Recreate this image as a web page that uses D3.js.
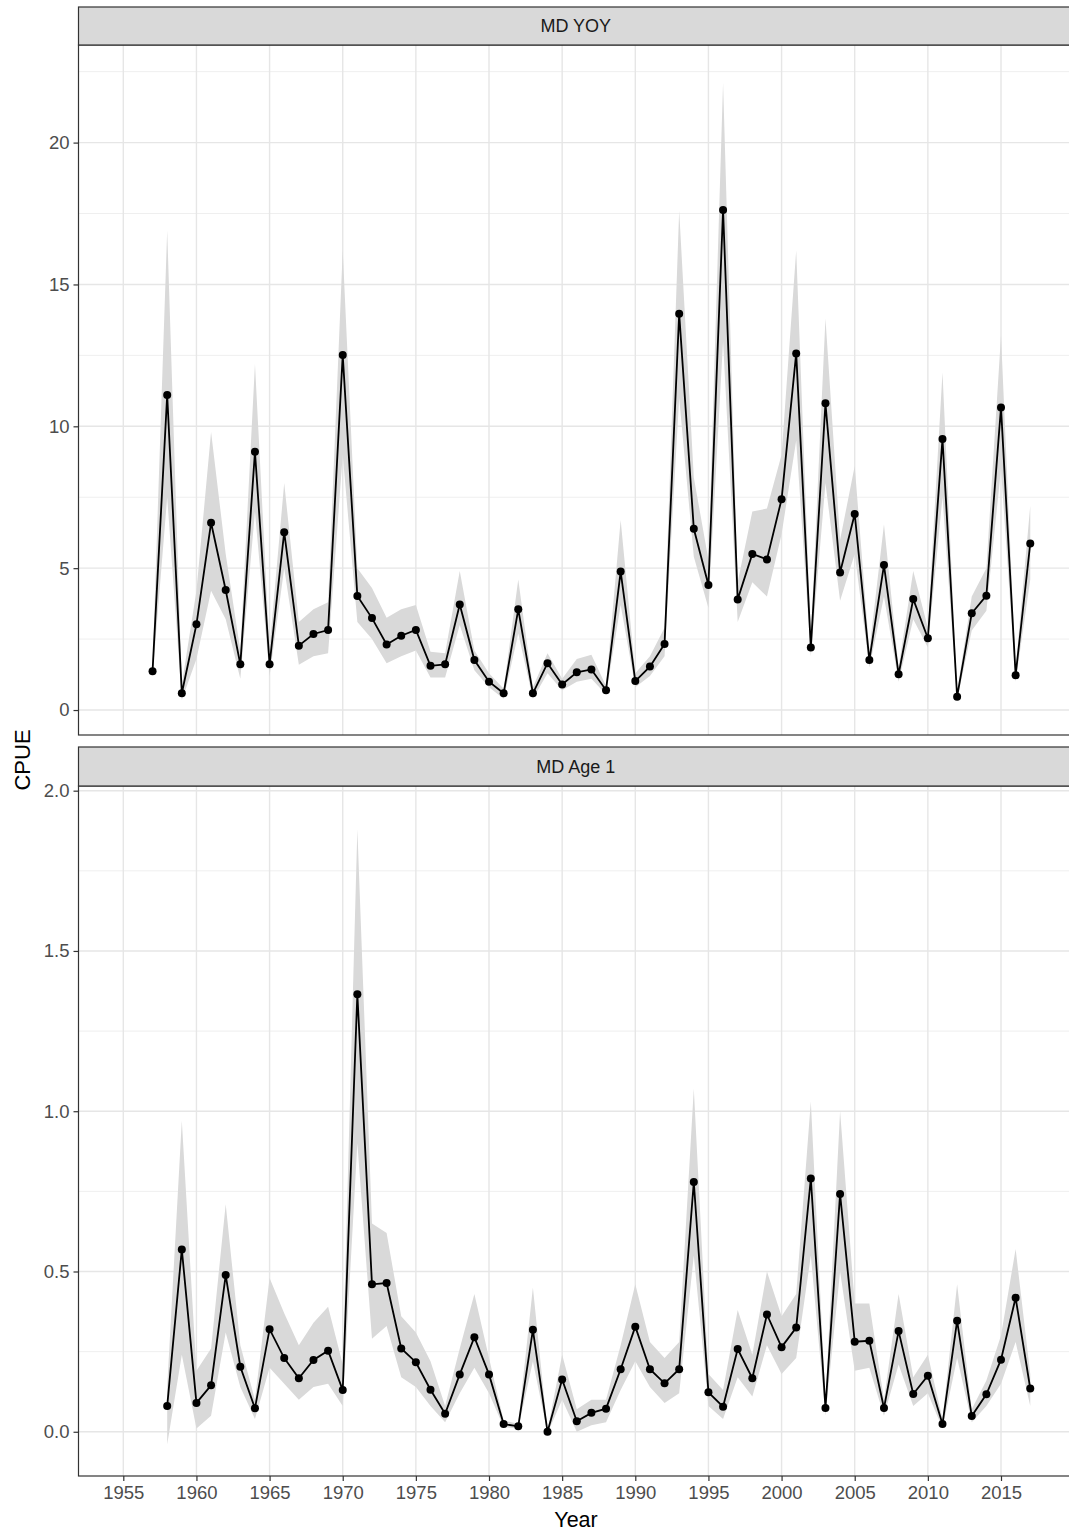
<!DOCTYPE html>
<html><head><meta charset="utf-8">
<script src="https://cdn.jsdelivr.net/npm/d3@7"></script>
<style>body{margin:0;background:#fff;} svg{display:block;font-family:"Liberation Sans",Arial,sans-serif;}</style>
</head><body>
<script>
// ---- data ----
const yoyYears = d3.range(1957, 2018);
const yoyValues = [1.37,11.1,0.59,3.02,6.6,4.23,1.61,9.1,1.61,6.27,2.27,2.68,2.82,12.51,4.02,3.24,2.31,2.62,2.82,1.56,1.61,3.72,1.76,1.0,0.59,3.55,0.59,1.65,0.9,1.33,1.43,0.7,4.88,1.02,1.53,2.33,13.97,6.39,4.41,17.62,3.9,5.5,5.31,7.43,12.57,2.2,10.81,4.85,6.91,1.76,5.11,1.26,3.91,2.53,9.55,0.47,3.41,4.03,10.66,1.23,5.87];
const yoyLower  = [1.2,7.5,0.35,1.8,4.2,3.2,1.1,7.0,1.2,5.0,1.6,1.9,2.0,9.0,3.1,2.5,1.65,1.9,2.1,1.15,1.15,3.0,1.4,0.8,0.4,2.7,0.4,1.3,0.7,1.0,1.1,0.55,3.7,0.8,1.2,1.9,11.0,5.4,3.6,13.0,3.1,4.5,4.0,6.2,9.5,1.9,8.0,3.85,5.5,1.5,4.0,1.0,3.2,2.2,7.5,0.35,2.8,3.5,8.5,1.0,4.6];
const yoyUpper  = [1.6,16.9,0.9,4.2,9.8,5.5,2.1,12.2,2.2,8.0,3.1,3.55,3.8,16.2,5.0,4.3,3.25,3.55,3.7,2.05,2.0,4.9,2.1,1.3,0.75,4.6,0.8,2.0,1.1,1.8,1.95,0.85,6.7,1.3,1.9,2.9,17.6,8.2,5.3,22.1,4.5,7.0,7.1,9.0,16.2,2.6,13.8,6.0,8.6,2.1,6.55,1.5,4.9,2.9,11.9,0.65,4.0,5.0,13.2,1.45,7.2];

const age1Years = d3.range(1958, 2018);
const age1Values = [0.08,0.569,0.09,0.145,0.489,0.203,0.073,0.32,0.23,0.167,0.224,0.253,0.13,1.365,0.46,0.464,0.26,0.217,0.131,0.056,0.179,0.295,0.179,0.024,0.017,0.318,0.0,0.163,0.033,0.059,0.072,0.195,0.328,0.195,0.151,0.195,0.779,0.123,0.078,0.258,0.167,0.366,0.264,0.325,0.79,0.074,0.742,0.281,0.284,0.074,0.314,0.118,0.175,0.024,0.346,0.049,0.117,0.225,0.418,0.135];
const age1Lower  = [-0.04,0.24,0.01,0.05,0.31,0.14,0.04,0.2,0.15,0.1,0.14,0.15,0.08,0.9,0.29,0.33,0.17,0.14,0.08,0.03,0.12,0.2,0.12,0.015,0.01,0.22,-0.005,0.1,0.0,0.02,0.03,0.13,0.22,0.14,0.09,0.12,0.55,0.08,0.04,0.17,0.11,0.27,0.18,0.23,0.55,0.05,0.5,0.19,0.2,0.05,0.21,0.08,0.12,0.01,0.23,0.03,0.08,0.15,0.28,0.08];
const age1Upper  = [0.14,0.97,0.19,0.26,0.71,0.27,0.1,0.48,0.37,0.27,0.34,0.39,0.21,1.88,0.65,0.62,0.36,0.31,0.22,0.08,0.26,0.43,0.23,0.035,0.025,0.45,0.005,0.24,0.07,0.1,0.1,0.27,0.46,0.28,0.23,0.28,1.07,0.18,0.13,0.38,0.24,0.5,0.36,0.43,1.03,0.1,1.0,0.4,0.4,0.1,0.43,0.17,0.24,0.04,0.46,0.07,0.16,0.3,0.57,0.18];

const xTicks = d3.range(1955, 2016, 5);
const yoyTicks = [0, 5, 10, 15, 20];
const age1Ticks = [0.0, 0.5, 1.0, 1.5, 2.0];
const panels = [
  {title: "MD YOY", years: yoyYears, values: yoyValues, lower: yoyLower, upper: yoyUpper, ticks: yoyTicks, fmt: d3.format("d"),
   domain: [-0.88, 23.44], stripTop: 7, top: 45, bottom: 735},
  {title: "MD Age 1", years: age1Years, values: age1Values, lower: age1Lower, upper: age1Upper, ticks: age1Ticks, fmt: d3.format(".1f"),
   domain: [-0.138, 2.0146], stripTop: 747, top: 786, bottom: 1476}
];

// ---- layout ----
const W = 1069, H = 1533;
const left = 78.5, right = 1072;
const x = d3.scaleLinear().domain([1955, 2015]).range([123.3, 1001]);

const svg = d3.select("body").append("svg").attr("width", W).attr("height", H);

panels.forEach((p, pi) => {
  const y = d3.scaleLinear().domain(p.domain).range([p.bottom, p.top]);
  const g = svg.append("g");
  g.append("rect").attr("x", left).attr("y", p.top).attr("width", right - left).attr("height", p.bottom - p.top).attr("fill", "#fff");
  const step = p.ticks[1] - p.ticks[0];
  const minor = p.ticks.map(t => t + step / 2).filter(v => v < p.domain[1]);
  g.selectAll(".minor").data(minor).enter().append("line")
    .attr("x1", left).attr("x2", right).attr("y1", d => y(d)).attr("y2", d => y(d))
    .attr("stroke", "#EDEDED").attr("stroke-width", 0.9);
  g.selectAll(".hmaj").data(p.ticks).enter().append("line")
    .attr("x1", left).attr("x2", right).attr("y1", d => y(d)).attr("y2", d => y(d))
    .attr("stroke", "#E6E6E6").attr("stroke-width", 1.4);
  g.selectAll(".vmaj").data(xTicks).enter().append("line")
    .attr("x1", d => x(d)).attr("x2", d => x(d)).attr("y1", p.top).attr("y2", p.bottom)
    .attr("stroke", "#E6E6E6").attr("stroke-width", 1.4);

  const idx = d3.range(p.years.length);
  const area = d3.area().x(i => x(p.years[i])).y0(i => y(p.lower[i])).y1(i => y(p.upper[i]));
  g.append("path").attr("d", area(idx)).attr("fill", "#D9D9D9");
  const line = d3.line().x(i => x(p.years[i])).y(i => y(p.values[i]));
  g.append("path").attr("d", line(idx)).attr("fill", "none").attr("stroke", "#000").attr("stroke-width", 1.8);
  g.selectAll(".pt").data(idx).enter().append("circle")
    .attr("cx", i => x(p.years[i])).attr("cy", i => y(p.values[i])).attr("r", 4).attr("fill", "#000");

  g.append("rect").attr("x", left).attr("y", p.top).attr("width", right - left).attr("height", p.bottom - p.top)
    .attr("fill", "none").attr("stroke", "#333").attr("stroke-width", 1.2);
  g.append("rect").attr("x", left).attr("y", p.stripTop).attr("width", right - left).attr("height", p.top - p.stripTop)
    .attr("fill", "#D9D9D9").attr("stroke", "#333").attr("stroke-width", 1.2);
  g.append("text").attr("x", (left + 1069) / 2 + 2).attr("y", (p.stripTop + p.top) / 2).attr("dy", "0.36em")
    .attr("text-anchor", "middle").attr("font-size", 18).attr("fill", "#1A1A1A").text(p.title);

  const yAxis = d3.axisLeft(y).tickValues(p.ticks).tickFormat(p.fmt).tickSize(5).tickPadding(4);
  const ya = svg.append("g").attr("transform", `translate(${left},0)`).call(yAxis);
  ya.select(".domain").remove();
  ya.selectAll("line").attr("stroke", "#333").attr("stroke-width", 1.2);
  ya.selectAll("text").attr("font-size", 18.5).attr("fill", "#4D4D4D").attr("font-family", "Liberation Sans, Arial, sans-serif");

  if (pi === 1) {
    const xAxis = d3.axisBottom(x).tickValues(xTicks).tickFormat(d3.format("d")).tickSize(5).tickPadding(5);
    const xa = svg.append("g").attr("transform", `translate(0,${p.bottom})`).call(xAxis);
    xa.select(".domain").remove();
    xa.selectAll("line").attr("stroke", "#333").attr("stroke-width", 1.2);
    xa.selectAll("text").attr("font-size", 18.5).attr("fill", "#4D4D4D").attr("font-family", "Liberation Sans, Arial, sans-serif");
  }
});

svg.append("text").attr("x", 576).attr("y", 1527).attr("text-anchor", "middle").attr("font-size", 21.5).attr("fill", "#000").text("Year");
svg.append("text").attr("transform", "translate(30,760) rotate(-90)").attr("text-anchor", "middle").attr("font-size", 22).attr("fill", "#000").text("CPUE");
</script>
</body></html>
